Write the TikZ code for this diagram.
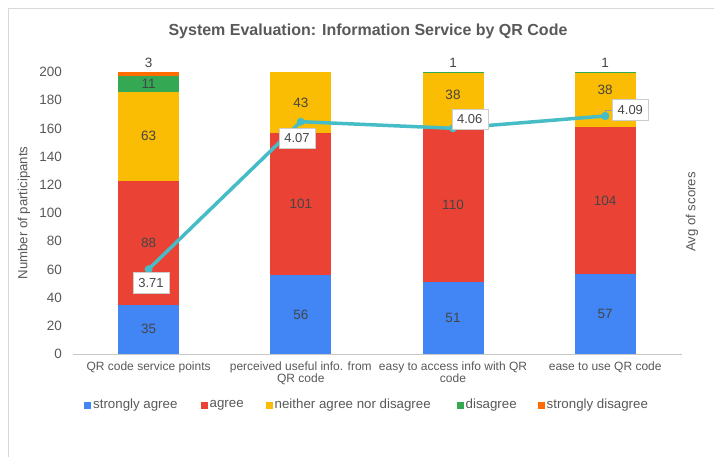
\documentclass[tikz,border=0pt]{standalone}
\usepackage{fontspec}
\setmainfont{Liberation Sans}
\definecolor{cBlue}{HTML}{4285F4}
\definecolor{cRed}{HTML}{EA4335}
\definecolor{cYel}{HTML}{FBBC04}
\definecolor{cGreen}{HTML}{34A853}
\definecolor{cOrange}{HTML}{FF6D01}
\definecolor{cLine}{HTML}{46BDC6}
\definecolor{txt}{HTML}{595959}
\definecolor{dtxt}{HTML}{454545}
\definecolor{frame}{HTML}{D9D9D9}
\newcommand\fs[1]{\fontsize{#1}{#1}\selectfont}
\begin{document}
\begin{tikzpicture}[x=1pt,y=-1pt,
  ttl/.style={font=\fs{16}\bfseries,text=txt},
  tick/.style={font=\fs{13.5},text=txt,anchor=east,inner sep=0},
  xlab/.style={font=\fs{12},text=txt,align=center,anchor=north,inner sep=0},
  axt/.style={font=\fs{13.2},text=txt,rotate=90,inner sep=0},
  dlab/.style={font=\fs{13.5},text=dtxt,inner sep=0},
  leg/.style={font=\fs{13.3},text=txt,anchor=west,inner sep=0},
  sq/.style={minimum size=7pt,inner sep=0,anchor=west},
  vbox/.style={draw=black!20,line width=0.6pt,fill=white,font=\fs{13},text=dtxt,
    minimum width=36pt,minimum height=20.5pt,inner sep=0},
  dotm/.style={circle,fill=cLine,minimum size=8pt,inner sep=0},
  trend/.style={draw=cLine,line width=3.5pt,line join=round},
]
\useasboundingbox (0,0) rectangle (714,457);
\fill[white] (0,0) rectangle (714,457);
% frame
\draw[frame,line width=1.5pt] (8.5,470) -- (8.5,8.5) -- (720,8.5);

% title
\node[ttl] (title) at (368,31) {System Evaluation: Information Service by QR Code};

% y ticks
\foreach \v in {0,20,...,200}
  \node[tick] (t\v) at (62,{354-1.41*\v}) {\v};

% axis titles
\node[axt] (ylab) at (24,213) {Number of participants};
\node[axt] (y2lab) at (692,212) {Avg of scores};

% bars: center, cumulative boundaries
\foreach \c/\a/\b/\col in {148.6/0/35/cBlue,148.6/35/123/cRed,148.6/123/186/cYel,148.6/186/197/cGreen,148.6/197/200/cOrange,
  300.8/0/56/cBlue,300.8/56/157/cRed,300.8/157/200/cYel,
  453/0/51/cBlue,453/51/161/cRed,453/161/199/cYel,453/199/200/cGreen,
  605.2/0/57/cBlue,605.2/57/161/cRed,605.2/161/199/cYel,605.2/199/200/cGreen}
  \fill[\col] ({\c-30.5},{354-1.41*\a}) rectangle ({\c+30.5},{354-1.41*\b});

% baseline
\draw[black!22,line width=1.5pt] (72.9,354.5) -- (681.7,354.5);

% data labels
\foreach \c/\y/\t [count=\i] in {148.6/329.3/35,148.6/242.6/88,148.6/136.2/63,148.6/84.0/11,148.6/63/3,
  300.8/314.5/56,300.8/203.8/101,300.8/102.8/43,
  453/318/51,453/204.5/110,453/95/38,453/63/1,
  605.2/314/57,605.2/200.5/104,605.2/90/38,605.2/63/1}
  \node[dlab] (d\i) at (\c,\y) {\t};

% x labels
\node[xlab] (x1) at (148.6,361.5) {QR code service points};
\node[xlab] (x2) at (300.8,361.5) {perceived useful info. from\\[0.6pt]QR code};
\node[xlab] (x3) at (453,361.5) {easy to access info with QR\\[0.6pt]code};
\node[xlab] (x4) at (605.2,361.5) {ease to use QR code};

% trend line
\coordinate (p1) at (148.6,269.2);
\coordinate (p2) at (300.8,121.7);
\coordinate (p3) at (453,128.3);
\coordinate (p4) at (605.2,116);
\draw[trend] (p1) -- (p2) -- (p3) -- (p4);
\foreach \i in {1,...,4} \node[dotm] (m\i) at (p\i) {};

% value boxes
\node[vbox] (v1) at (151,282.8) {3.71};
\node[vbox] (v2) at (297,138.3) {4.07};
\node[vbox] (v3) at (469.8,119.5) {4.06};
\node[vbox] (v4) at (630.3,110) {4.09};
\draw[black!40,line width=0.6pt] (m4.center) |- (v4.west);
\node[dotm] at (p4) {};

% legend
\node[sq,fill=cBlue] (s1) at (83.5,405.8) {};
\node[leg] (l1) at (93,405.5) {strongly agree};
\node[sq,fill=cRed] (s2) at (200.5,405.8) {};
\node[leg] (l2) at (209.5,405.5) {agree};
\node[sq,fill=cYel] (s3) at (265.5,405.8) {};
\node[leg] (l3) at (274.5,405.5) {neither agree nor disagree};
\node[sq,fill=cGreen] (s4) at (456.5,405.8) {};
\node[leg] (l4) at (465.5,405.5) {disagree};
\node[sq,fill=cOrange] (s5) at (537.5,405.8) {};
\node[leg] (l5) at (546.5,405.5) {strongly disagree};
\end{tikzpicture}
\end{document}
